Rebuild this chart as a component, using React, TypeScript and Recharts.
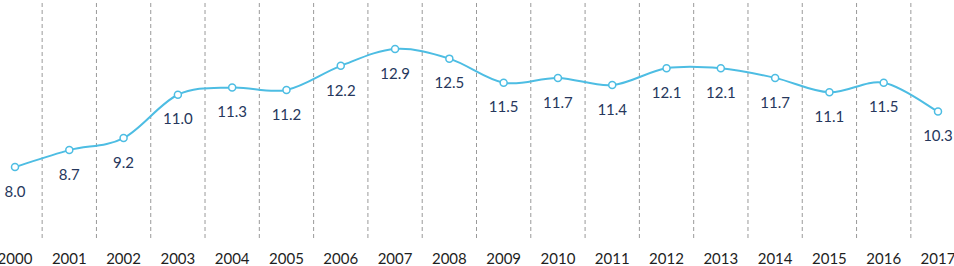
import { LineChart, Line, XAxis, YAxis, ReferenceLine, LabelList } from 'recharts'

const YEARS = [
  '2000', '2001', '2002', '2003', '2004', '2005', '2006', '2007', '2008',
  '2009', '2010', '2011', '2012', '2013', '2014', '2015', '2016', '2017',
]
const VALUES = [
  8.0, 8.7, 9.2, 11.0, 11.3, 11.2, 12.2, 12.9, 12.5,
  11.5, 11.7, 11.4, 12.1, 12.1, 11.7, 11.1, 11.5, 10.3,
]

const LINE_COLOR = '#4DBDE3'
const LABEL_COLOR = '#26375C'
const FONT = 'Lato, "Open Sans", sans-serif'

const data = YEARS.map((year, i) => ({ i, year, value: VALUES[i] }))
const ticks = YEARS.map((_, i) => i)
// dashed separators sit between neighbouring years
const separators = YEARS.slice(1).map((_, i) => i + 0.5)

// Catmull-Rom style smoothing, close to a spreadsheet "smoothed line"
function smoothCurve(context: any) {
  let pts: number[][] = []
  return {
    areaStart() {},
    areaEnd() {},
    lineStart() {
      pts = []
    },
    point(x: number, y: number) {
      pts.push([+x, +y])
    },
    lineEnd() {
      if (!pts.length) return
      context.moveTo(pts[0][0], pts[0][1])
      const t = 1 / 6
      for (let k = 0; k < pts.length - 1; k++) {
        const p0 = pts[k - 1] || pts[k]
        const p1 = pts[k]
        const p2 = pts[k + 1]
        const p3 = pts[k + 2] || p2
        context.bezierCurveTo(
          p1[0] + (p2[0] - p0[0]) * t,
          p1[1] + (p2[1] - p0[1]) * t,
          p2[0] - (p3[0] - p1[0]) * t,
          p2[1] - (p3[1] - p1[1]) * t,
          p2[0],
          p2[1],
        )
      }
    },
  }
}

export default function App() {
  return (
    <div style={{ position: 'absolute', left: 0, top: 0, width: 954, height: 266, background: '#fff' }}>
      <LineChart width={954} height={266} data={data} margin={{ top: 0, right: 0, bottom: 0, left: 0 }}>
        <XAxis
          dataKey="i"
          type="number"
          domain={[0, YEARS.length - 1]}
          ticks={ticks}
          tickFormatter={(v: number) => YEARS[v]}
          padding={{ left: 15, right: 16 }}
          axisLine={false}
          tickLine={false}
          tickMargin={9}
          height={28}
          interval={0}
          tick={{ fontSize: 15, fill: '#1e1e1e', fontFamily: FONT }}
        />
        <YAxis hide domain={[5.05, 14.935]} />
        {separators.map((x) => (
          <ReferenceLine key={x} x={x} stroke="#9a9a9a" strokeDasharray="4 3" strokeWidth={1} />
        ))}
        <Line
          dataKey="value"
          type={smoothCurve as any}
          stroke={LINE_COLOR}
          strokeWidth={2}
          dot={{ r: 3.5, fill: '#fff', stroke: LINE_COLOR, strokeWidth: 1.5 }}
          activeDot={false}
          isAnimationActive={false}
        >
          <LabelList
            dataKey="value"
            position="bottom"
            offset={19}
            formatter={(v: number) => v.toFixed(1)}
            style={{ fontSize: 15, fill: LABEL_COLOR, fontFamily: FONT }}
          />
        </Line>
      </LineChart>
    </div>
  )
}
